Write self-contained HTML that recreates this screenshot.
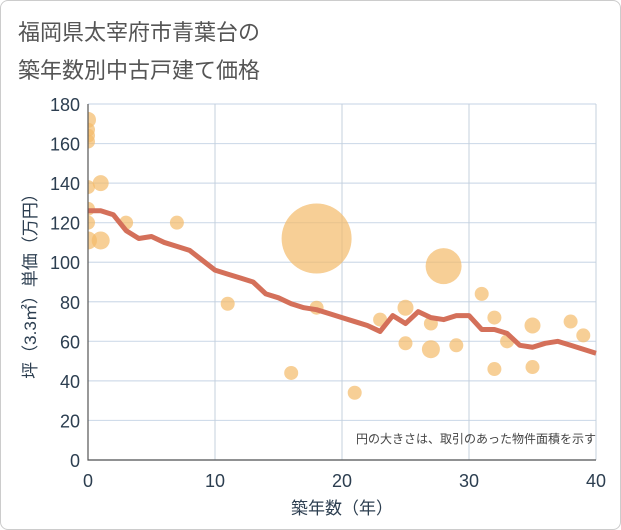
<!DOCTYPE html>
<html><head><meta charset="utf-8"><style>
body{margin:0;background:#fff;font-family:"Liberation Sans","Noto Sans CJK JP",sans-serif;}
#card{position:absolute;left:0;top:0;width:619px;height:528px;border:1px solid #ccc;border-radius:8px;background:#fff;}
</style></head><body>
<div id="card">
<svg id="chart" width="621" height="530" style="position:absolute;left:-1px;top:-1px">
<defs><clipPath id="plotclip"><rect x="88" y="90" width="520" height="370"/></clipPath></defs>
<text x="18" y="40" font-size="22" fill="#555">福岡県太宰府市青葉台の</text>
<text x="18" y="78" font-size="22" fill="#555">築年数別中古戸建て価格</text>
<g id="grid"></g><g id="bubbles" clip-path="url(#plotclip)"></g><g id="line" clip-path="url(#plotclip)"></g><g id="axes"></g>
<text x="596" y="443" font-size="12" fill="#444" text-anchor="end">円の大きさは、取引のあった物件面積を示す</text>
<text x="342" y="514" font-size="17" fill="#2c3e50" text-anchor="middle">築年数（年）</text>
<text transform="translate(36,282) rotate(-90)" font-size="17" fill="#2c3e50" text-anchor="middle">坪（3.3㎡）単価（万円）</text>
</svg></div>
<script>
const xTicks=[0,10,20,30,40];
const yTicks=[0,20,40,60,80,100,120,140,160,180];
const bubbleX=[0,0,0,0,0,0,0,0,1,1,3,7,11,16,18,18,21,23,25,25,27,27,28,29,31,32,32,33,35,35,38,39];
const bubbleY=[172,167,164,161,138,127,120,111,140,111,120,120,79,44,112,77,34,71,77,59,69,56,98,58,84,72,46,60,68,47,70,63];
const bubbleR=[8,7,7,7,7,7,7,9,8,9,7,7,7,7,35,7,7,7,8,7,7,9,18,7,7,7,7,7,8,7,7,7];
const lineX=[0,1,2,3,4,5,6,7,8,9,10,11,12,13,14,15,16,17,18,19,20,21,22,23,24,25,26,27,28,29,30,31,32,33,34,35,36,37,38,39,40];
const lineY=[126,126,124,116,112,113,110,108,106,101,96,94,92,90,84,82,79,77,76,74,72,70,68,65,73,69,75,72,71,73,73,66,66,64,58,57,59,60,58,56,54];
const X0=88,X1=596,Y0=460,Y1=104;
const xs=v=>X0+(X1-X0)*v/40, ys=v=>Y0-(Y0-Y1)*v/180;
const NS="http://www.w3.org/2000/svg";
function mk(t,a,p){const e=document.createElementNS(NS,t);for(const k in a)e.setAttribute(k,a[k]);p.appendChild(e);return e;}
const grid=document.getElementById('grid'),axes=document.getElementById('axes');
yTicks.forEach(v=>{const l=mk('line',{x1:X0,x2:X1,y1:ys(v),y2:ys(v),stroke:'#d0dcea','stroke-width':1.2},grid);

const t=mk('text',{x:80,y:ys(v)+7,'font-size':18,fill:'#2c3e50','text-anchor':'end'},axes);t.textContent=v;
});
xTicks.forEach(v=>{const l=mk('line',{x1:xs(v),x2:xs(v),y1:Y1,y2:Y0,stroke:'#c4d0dc','stroke-width':1},grid);

const t=mk('text',{x:xs(v),y:487,'font-size':18,fill:'#2c3e50','text-anchor':'middle'},axes);t.textContent=v;
});
const ax=mk('path',{d:`M${X0} ${Y1}V${Y0}H${X1}`,fill:'none',stroke:'#555','stroke-width':1.2},axes);

const bg=document.getElementById('bubbles');
bubbleX.forEach((x,i)=>{const c=mk('circle',{cx:xs(x),cy:ys(bubbleY[i]),r:bubbleR[i],fill:'#f3bb6a','fill-opacity':0.7},bg);
});
const p=mk('polyline',{points:lineX.map((x,i)=>xs(x)+','+ys(lineY[i])).join(' '),fill:'none',stroke:'#d4705a','stroke-width':5,'stroke-linejoin':'round'},document.getElementById('line'));

</script></body></html>
